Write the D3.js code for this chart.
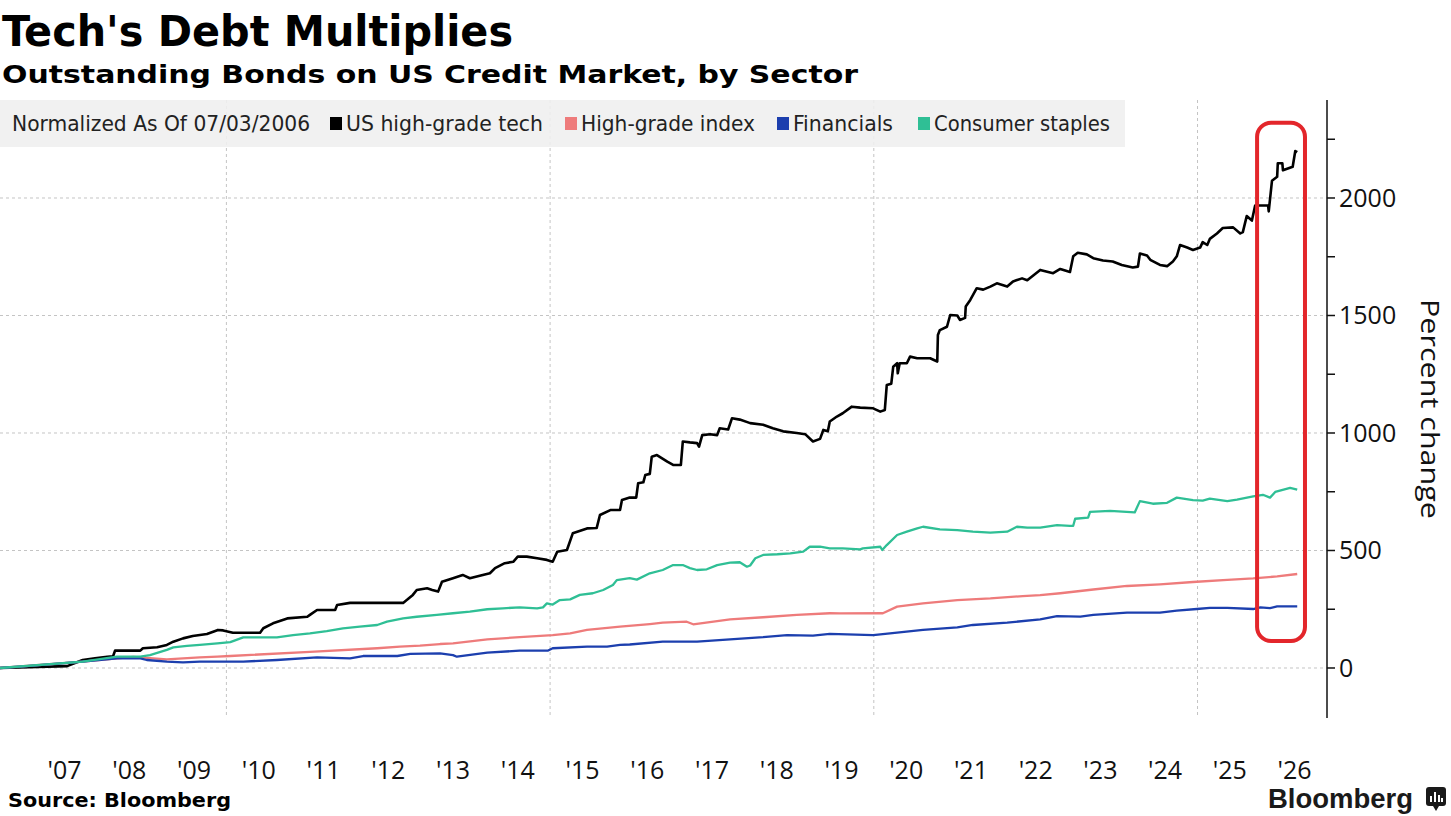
<!DOCTYPE html>
<html>
<head>
  <meta charset="utf-8">
  <title>Tech's Debt Multiplies</title>
  <!-- Load D3.js -->
  <script src="https://d3js.org/d3.v7.min.js"></script>
  <style>
    body {
      margin: 0;
      padding: 0;
      background-color: white;
    }
    svg { display: block; }
    .head {
      font-family: "DejaVu Sans Condensed", "DejaVu Sans", sans-serif;
      font-weight: bold;
      fill: #000;
    }
    .legend-text {
      font-family: "DejaVu Sans Condensed", "DejaVu Sans", sans-serif;
      font-size: 21px;
      fill: #222;
    }
    .tick-label {
      font-family: "Open Sans", sans-serif;
      font-size: 25px;
      fill: #111;
    }
    .grid {
      stroke: #c4c4c4;
      stroke-width: 1;
      stroke-dasharray: 3,3;
    }
  </style>
</head>
<body>

  <div id="chart"></div>

  <script>
    // Data: [decimal year, percent change since 07/03/2006]
    var techData = [
      [2006.50, 0], [2007.54, 8], [2007.78, 34], [2007.97, 41], [2008.16, 48], [2008.25, 50],
      [2008.28, 74], [2008.67, 74], [2008.71, 84], [2008.93, 88], [2009.08, 98], [2009.18, 112],
      [2009.33, 126], [2009.48, 136], [2009.70, 145], [2009.87, 162], [2009.95, 160], [2010.10, 150],
      [2010.52, 150], [2010.57, 169], [2010.72, 190], [2010.94, 211], [2011.25, 218], [2011.29, 226],
      [2011.40, 247], [2011.68, 247], [2011.71, 268], [2011.91, 277], [2012.73, 277], [2012.79, 290],
      [2012.88, 311], [2012.94, 332], [2013.10, 339], [2013.18, 332], [2013.27, 325], [2013.33, 367],
      [2013.50, 382], [2013.65, 396], [2013.76, 382], [2013.96, 396], [2014.07, 403], [2014.15, 425],
      [2014.30, 446], [2014.43, 452], [2014.50, 474], [2014.64, 474], [2014.80, 467], [2014.95, 460],
      [2015.04, 452], [2015.11, 495], [2015.26, 502], [2015.35, 573], [2015.57, 594], [2015.72, 596],
      [2015.77, 651], [2015.93, 672], [2016.08, 672], [2016.11, 715], [2016.23, 725], [2016.33, 725],
      [2016.36, 786], [2016.44, 790], [2016.47, 821], [2016.54, 826], [2016.57, 899], [2016.65, 906],
      [2016.73, 892], [2016.81, 878], [2016.90, 864], [2017.02, 864], [2017.05, 964], [2017.16, 960],
      [2017.27, 957], [2017.30, 942], [2017.35, 991], [2017.47, 995], [2017.58, 991], [2017.62, 1020],
      [2017.75, 1015], [2017.81, 1063], [2017.93, 1057], [2018.09, 1042], [2018.29, 1035], [2018.44, 1020],
      [2018.60, 1007], [2018.81, 1000], [2018.94, 995], [2019.06, 964], [2019.17, 975], [2019.22, 1013],
      [2019.29, 1007], [2019.32, 1049], [2019.43, 1070], [2019.52, 1084], [2019.66, 1112], [2019.79, 1108],
      [2019.99, 1105], [2020.10, 1091], [2020.17, 1098], [2020.20, 1204], [2020.27, 1210], [2020.30, 1282],
      [2020.36, 1297], [2020.37, 1254], [2020.40, 1297], [2020.51, 1297], [2020.56, 1325], [2020.67, 1318],
      [2020.87, 1318], [2020.98, 1304], [2020.99, 1417], [2021.02, 1438], [2021.13, 1452], [2021.18, 1502],
      [2021.29, 1500], [2021.33, 1481], [2021.41, 1490], [2021.42, 1538], [2021.49, 1566], [2021.59, 1616],
      [2021.69, 1610], [2021.80, 1623], [2021.90, 1637], [2022.06, 1623], [2022.15, 1645], [2022.29, 1658],
      [2022.37, 1650], [2022.57, 1694], [2022.77, 1680], [2022.88, 1698], [2023.03, 1685], [2023.08, 1752],
      [2023.15, 1767], [2023.29, 1760], [2023.39, 1744], [2023.54, 1734], [2023.69, 1730], [2023.83, 1715],
      [2024.00, 1704], [2024.08, 1708], [2024.11, 1764], [2024.22, 1755], [2024.27, 1737], [2024.42, 1715],
      [2024.53, 1710], [2024.62, 1730], [2024.68, 1752], [2024.73, 1800], [2024.84, 1789], [2024.93, 1779],
      [2025.04, 1789], [2025.08, 1812], [2025.15, 1800], [2025.19, 1826], [2025.30, 1849], [2025.39, 1872],
      [2025.55, 1875], [2025.66, 1849], [2025.70, 1855], [2025.76, 1923], [2025.84, 1904], [2025.89, 1968],
      [2026.09, 1968], [2026.10, 1943], [2026.15, 2073], [2026.23, 2090], [2026.24, 2148], [2026.31, 2148],
      [2026.32, 2118], [2026.47, 2133], [2026.51, 2200], [2026.54, 2195]
    ];

    var indexData = [
      [2006.50, 0], [2007.78, 27], [2008.56, 47], [2009.08, 37], [2009.33, 41], [2009.59, 45],
      [2009.86, 48], [2010.06, 51], [2011.29, 69], [2012.33, 84], [2012.68, 91], [2012.99, 95],
      [2013.30, 102], [2013.50, 105], [2014.03, 122], [2014.53, 131], [2015.04, 140], [2015.31, 147],
      [2015.57, 162], [2016.08, 176], [2016.54, 187], [2016.74, 193], [2017.11, 197], [2017.21, 186],
      [2017.78, 207], [2018.29, 216], [2018.81, 226], [2019.32, 233], [2019.48, 232], [2020.14, 233],
      [2020.36, 261], [2020.76, 275], [2021.29, 289], [2021.80, 296], [2022.30, 306], [2022.57, 310],
      [2022.88, 318], [2023.39, 334], [2023.91, 349], [2024.42, 356], [2024.93, 366], [2025.46, 375],
      [2025.86, 381], [2026.23, 390], [2026.54, 400]
    ];

    var financialsData = [
      [2006.50, 0], [2006.92, 8], [2007.78, 27], [2008.31, 41], [2008.67, 41], [2008.77, 34],
      [2009.08, 27], [2009.33, 24], [2009.59, 27], [2009.86, 27], [2010.26, 27], [2010.78, 34],
      [2011.40, 45], [2011.91, 41], [2012.11, 51], [2012.64, 51], [2012.84, 60], [2013.30, 62],
      [2013.50, 55], [2013.56, 48], [2014.03, 65], [2014.53, 74], [2014.97, 74], [2015.04, 84],
      [2015.57, 91], [2015.88, 91], [2016.08, 98], [2016.23, 100], [2016.74, 112], [2017.27, 112],
      [2017.78, 122], [2018.29, 131], [2018.66, 140], [2019.06, 138], [2019.32, 145], [2019.99, 140],
      [2020.25, 147], [2020.76, 162], [2021.29, 173], [2021.53, 183], [2022.06, 193], [2022.57, 207],
      [2022.83, 221], [2023.19, 219], [2023.39, 226], [2023.91, 236], [2024.42, 236], [2024.68, 244],
      [2024.99, 251], [2025.19, 256], [2025.46, 256], [2025.86, 251], [2025.97, 258], [2026.12, 255],
      [2026.23, 262], [2026.54, 262]
    ];

    var staplesData = [
      [2006.50, 0], [2007.78, 27], [2008.31, 48], [2008.67, 48], [2008.82, 55], [2009.08, 77],
      [2009.18, 88], [2009.39, 94], [2009.59, 98], [2009.86, 105], [2010.06, 110], [2010.26, 130],
      [2010.78, 130], [2011.03, 140], [2011.29, 147], [2011.55, 157], [2011.80, 169], [2012.06, 176],
      [2012.33, 183], [2012.48, 197], [2012.73, 211], [2012.94, 218], [2013.25, 226], [2013.50, 233],
      [2013.76, 240], [2014.03, 250], [2014.27, 254], [2014.53, 258], [2014.80, 254], [2014.89, 258],
      [2014.95, 275], [2015.04, 270], [2015.15, 289], [2015.31, 292], [2015.46, 311], [2015.66, 318],
      [2015.82, 332], [2015.97, 353], [2016.03, 374], [2016.23, 382], [2016.34, 376], [2016.54, 403],
      [2016.74, 417], [2016.90, 438], [2017.05, 438], [2017.16, 425], [2017.27, 417], [2017.42, 420],
      [2017.58, 438], [2017.78, 448], [2017.93, 450], [2018.04, 431], [2018.09, 436], [2018.17, 467],
      [2018.29, 481], [2018.51, 484], [2018.71, 488], [2018.91, 495], [2019.01, 516], [2019.17, 516],
      [2019.32, 509], [2019.52, 509], [2019.79, 505], [2019.83, 509], [2020.10, 516], [2020.13, 502],
      [2020.20, 523], [2020.36, 566], [2020.51, 580], [2020.67, 594], [2020.76, 601], [2021.02, 590],
      [2021.29, 587], [2021.53, 580], [2021.80, 576], [2022.06, 580], [2022.21, 601], [2022.37, 597],
      [2022.57, 597], [2022.83, 608], [2023.03, 605], [2023.08, 605], [2023.11, 635], [2023.31, 640],
      [2023.34, 664], [2023.65, 669], [2024.03, 662], [2024.11, 710], [2024.31, 699], [2024.53, 703],
      [2024.68, 725], [2024.93, 714], [2025.08, 712], [2025.19, 721], [2025.46, 710], [2025.61, 716],
      [2025.86, 730], [2026.01, 737], [2026.12, 725], [2026.20, 749], [2026.43, 766], [2026.54, 759]
    ];

    var seriesNames = ["US high-grade tech", "High-grade index", "Financials", "Consumer staples"];
    var seriesColors = ["#000000", "#ee7b7b", "#1c3fae", "#2fbf95"];

    var yearTicks = d3.range(2007, 2027);
    var yearLabels = ["'07", "'08", "'09", "'10", "'11", "'12", "'13", "'14", "'15", "'16",
                      "'17", "'18", "'19", "'20", "'21", "'22", "'23", "'24", "'25", "'26"];
    var yMajorTicks = [0, 500, 1000, 1500, 2000];
    var yMinorTicks = [250, 750, 1250, 1750, 2250];
    var xGridYears = [2010, 2015, 2020, 2025];

    // highlighted window (red outline) in data units
    var highlight = { from: 2025.92, to: 2026.66, top: 2320, bottom: 115 };

    // Chart dimensions
    var width = 1451,
        height = 816,
        plot = { left: 0, right: 1327, top: 100, bottom: 718 };

    var svg = d3.select("#chart")
      .append("svg")
        .attr("width", width)
        .attr("height", height);

    svg.append("rect").attr("width", width).attr("height", height).attr("fill", "white");

    // Scales
    var x = d3.scaleLinear()
        .domain([2006.503, 2027])
        .range([plot.left, plot.right]);

    var y = d3.scaleLinear()
        .domain([-212.8, 2417])
        .range([plot.bottom, plot.top]);

    // Title + subtitle
    svg.append("text")
        .attr("class", "head")
        .attr("x", 2).attr("y", 46)
        .style("font-size", "42px")
        .attr("textLength", 511)
        .attr("lengthAdjust", "spacingAndGlyphs")
        .text("Tech's Debt Multiplies");

    svg.append("text")
        .attr("class", "head")
        .attr("x", 2).attr("y", 83)
        .style("font-size", "25px")
        .attr("textLength", 856)
        .attr("lengthAdjust", "spacingAndGlyphs")
        .text("Outstanding Bonds on US Credit Market, by Sector");

    // Grid lines
    svg.selectAll(".hgrid")
        .data(yMajorTicks)
      .enter().append("line")
        .attr("class", "grid")
        .attr("x1", plot.left).attr("x2", plot.right)
        .attr("y1", function(d) { return y(d); })
        .attr("y2", function(d) { return y(d); });

    svg.selectAll(".vgrid")
        .data(xGridYears)
      .enter().append("line")
        .attr("class", "grid")
        .attr("x1", function(d) { return x(d); })
        .attr("x2", function(d) { return x(d); })
        .attr("y1", plot.top).attr("y2", plot.bottom);

    // Legend strip
    var legend = svg.append("g");
    legend.append("rect")
        .attr("x", 0).attr("y", 100)
        .attr("width", 1125).attr("height", 47)
        .attr("fill", "#efefef")
        .attr("fill-opacity", 0.88);

    legend.append("text")
        .attr("class", "legend-text")
        .attr("x", 12).attr("y", 131)
        .attr("textLength", 298)
        .attr("lengthAdjust", "spacingAndGlyphs")
        .text("Normalized As Of 07/03/2006");

    var legendX = [330, 565, 777, 918];
    var legendW = [197, 174, 100, 176];
    seriesNames.forEach(function(name, i) {
      legend.append("rect")
          .attr("x", legendX[i]).attr("y", 117)
          .attr("width", 12).attr("height", 13)
          .attr("fill", seriesColors[i]);
      legend.append("text")
          .attr("class", "legend-text")
          .attr("x", legendX[i] + 16).attr("y", 131)
          .attr("textLength", legendW[i])
          .attr("lengthAdjust", "spacingAndGlyphs")
          .text(name);
    });

    // Lines
    var line = d3.line()
        .x(function(d) { return x(d[0]); })
        .y(function(d) { return y(d[1]); });

    var drawOrder = [
      { data: techData, color: seriesColors[0], w: 2.6 },
      { data: indexData, color: seriesColors[1], w: 2.3 },
      { data: financialsData, color: seriesColors[2], w: 2.3 },
      { data: staplesData, color: seriesColors[3], w: 2.3 }
    ];
    drawOrder.forEach(function(s) {
      svg.append("path")
          .datum(s.data)
          .attr("fill", "none")
          .attr("stroke", s.color)
          .attr("stroke-width", s.w)
          .attr("stroke-linejoin", "round")
          .attr("d", line);
    });

    // Right-hand y axis
    var yAxis = svg.append("g");
    yAxis.append("line")
        .attr("x1", plot.right).attr("x2", plot.right)
        .attr("y1", plot.top).attr("y2", plot.bottom)
        .attr("stroke", "#111").attr("stroke-width", 1.5);

    yAxis.selectAll(".tick")
        .data(yMajorTicks.concat(yMinorTicks))
      .enter().append("line")
        .attr("x1", plot.right).attr("x2", plot.right + 8)
        .attr("y1", function(d) { return y(d); })
        .attr("y2", function(d) { return y(d); })
        .attr("stroke", "#111").attr("stroke-width", 1.5);

    yAxis.selectAll(".ylabel")
        .data(yMajorTicks)
      .enter().append("text")
        .attr("class", "tick-label")
        .attr("x", plot.right + 12)
        .attr("y", function(d) { return y(d); })
        .attr("dy", "0.36em")
        .text(function(d) { return d; });

    svg.append("text")
        .attr("class", "tick-label")
        .attr("transform", "translate(1421," + (plot.top + plot.bottom) / 2 + ") rotate(90)")
        .style("text-anchor", "middle")
        .style("font-size", "25px")
        .attr("textLength", 220)
        .attr("lengthAdjust", "spacingAndGlyphs")
        .text("Percent change");

    // Year labels, centred on each year
    svg.selectAll(".xlabel")
        .data(yearTicks)
      .enter().append("text")
        .attr("class", "tick-label")
        .attr("x", function(d) { return x(d + 0.5); })
        .attr("y", 779)
        .style("text-anchor", "middle")
        .text(function(d, i) { return yearLabels[i]; });

    // Red highlight around the latest stretch
    svg.append("rect")
        .attr("x", x(highlight.from))
        .attr("y", y(highlight.top))
        .attr("width", x(highlight.to) - x(highlight.from))
        .attr("height", y(highlight.bottom) - y(highlight.top))
        .attr("rx", 14).attr("ry", 14)
        .attr("fill", "none")
        .attr("stroke", "#e3262b")
        .attr("stroke-width", 4);

    // Footer
    svg.append("text")
        .attr("class", "head")
        .attr("x", 8).attr("y", 807)
        .style("font-size", "20px")
        .attr("textLength", 223)
        .attr("lengthAdjust", "spacingAndGlyphs")
        .text("Source: Bloomberg");

    svg.append("text")
        .attr("x", 1268).attr("y", 808)
        .style("font-family", "'Liberation Sans', Arial, sans-serif")
        .style("font-weight", "bold")
        .style("font-size", "27px")
        .attr("fill", "#1a1a1a")
        .attr("textLength", 145)
        .attr("lengthAdjust", "spacingAndGlyphs")
        .text("Bloomberg");

    // small logo mark
    var logo = svg.append("g").attr("transform", "translate(1426,787)");
    logo.append("rect").attr("width", 20).attr("height", 19).attr("rx", 3).attr("fill", "#1a1a1a");
    logo.append("path").attr("d", "M7,19 L10,24 L13,19 Z").attr("fill", "#1a1a1a");
    [[4, 9], [8, 5], [12, 8], [15, 11]].forEach(function(b) {
      logo.append("rect").attr("x", b[0]).attr("y", b[1]).attr("width", 2).attr("height", 15 - b[1])
          .attr("fill", "white");
    });
  </script>

</body>
</html>
